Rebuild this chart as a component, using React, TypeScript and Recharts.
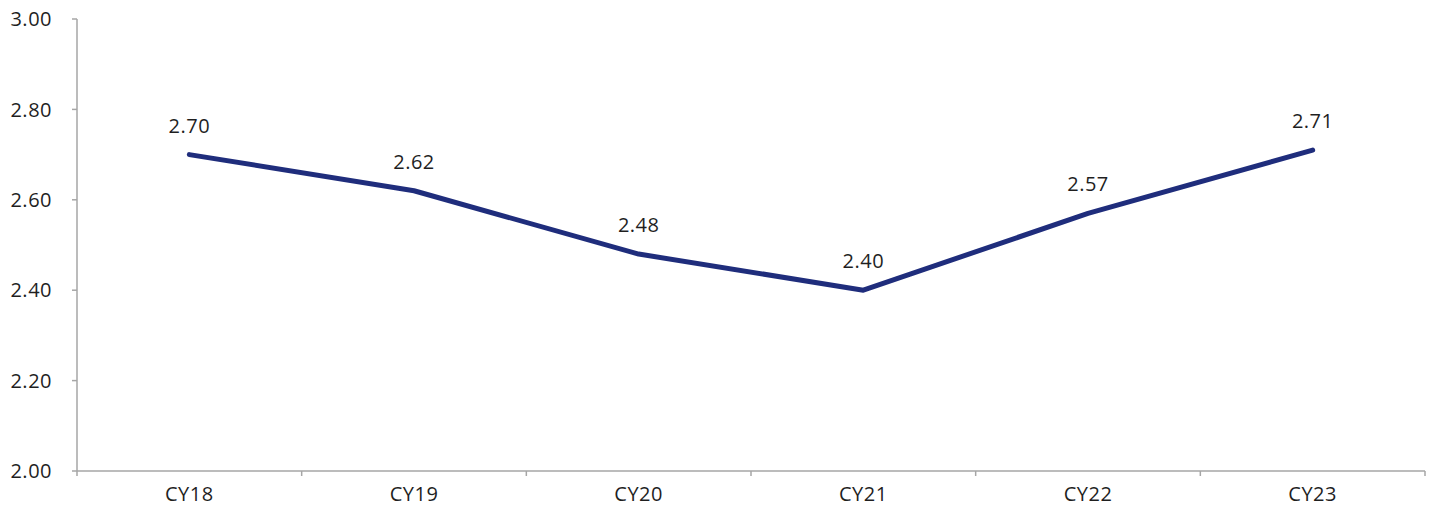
import { LineChart, Line, XAxis, YAxis, LabelList } from "recharts";

// Yearly values, CY18 – CY23
const YEARS = ["CY18", "CY19", "CY20", "CY21", "CY22", "CY23"];
const VALUES = [2.7, 2.62, 2.48, 2.4, 2.57, 2.71];
const Y_TICKS = [2.0, 2.2, 2.4, 2.6, 2.8, 3.0];

const data = YEARS.map((year, i) => ({ year, value: VALUES[i] }));

const WIDTH = 1435;
const HEIGHT = 506;
const MARGIN = { top: 19, right: 10, bottom: 0, left: 0 };
const Y_AXIS_WIDTH = 77;
const X_AXIS_HEIGHT = 35;

const AXIS_COLOR = "#a6a6a6";
const TEXT_COLOR = "#1f1f1f";
const LINE_COLOR = "#1f2d7c";
const FONT = "'Open Sans', sans-serif";
const SPACING = "0.5px";

const band = (WIDTH - MARGIN.left - MARGIN.right - Y_AXIS_WIDTH) / YEARS.length;

// Category label centred in its band, with tick marks on the band edges
function YearTick(props: any) {
  const { x, y, payload, index } = props;
  const left = x - band / 2;
  const right = x + band / 2;
  return (
    <g>
      <line x1={left} y1={y} x2={left} y2={y + 5} stroke={AXIS_COLOR} strokeWidth={1.5} />
      {index === YEARS.length - 1 && (
        <line x1={right} y1={y} x2={right} y2={y + 5} stroke={AXIS_COLOR} strokeWidth={1.5} />
      )}
      <text
        x={x}
        y={y + 16}
        dy="0.71em"
        textAnchor="middle"
        fill={TEXT_COLOR}
        fontSize={20}
        fontFamily={FONT}
        letterSpacing={SPACING}
      >
        {payload.value}
      </text>
    </g>
  );
}

export default function App() {
  return (
    <div style={{ position: "absolute", left: 0, top: 0, background: "#fff" }}>
      <LineChart width={WIDTH} height={HEIGHT} data={data} margin={MARGIN}>
        <XAxis
          dataKey="year"
          scale="band"
          height={X_AXIS_HEIGHT}
          axisLine={{ stroke: AXIS_COLOR, strokeWidth: 1.5 }}
          tickLine={false}
          tickSize={0}
          tickMargin={0}
          interval={0}
          tick={<YearTick />}
        />
        <YAxis
          domain={[2, 3]}
          ticks={Y_TICKS}
          width={Y_AXIS_WIDTH}
          tickFormatter={(v: number) => v.toFixed(2)}
          axisLine={{ stroke: AXIS_COLOR, strokeWidth: 1.5 }}
          tickLine={{ stroke: AXIS_COLOR, strokeWidth: 1.5 }}
          tickSize={5}
          tickMargin={20}
          tick={{ fill: TEXT_COLOR, fontSize: 20, fontFamily: FONT, letterSpacing: SPACING }}
        />
        <Line
          type="linear"
          dataKey="value"
          stroke={LINE_COLOR}
          strokeWidth={5}
          strokeLinecap="round"
          strokeLinejoin="round"
          dot={false}
          activeDot={false}
          isAnimationActive={false}
        >
          <LabelList
            dataKey="value"
            position="top"
            offset={22}
            formatter={(v: any) => Number(v).toFixed(2)}
            fill={TEXT_COLOR}
            fontSize={20}
            fontFamily={FONT}
            letterSpacing={SPACING}
          />
        </Line>
      </LineChart>
    </div>
  );
}
